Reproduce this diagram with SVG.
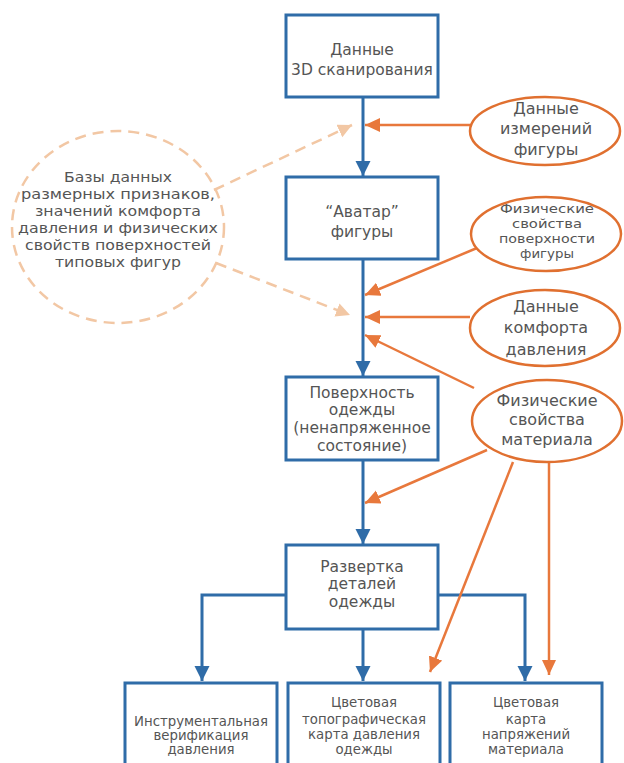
<svg xmlns="http://www.w3.org/2000/svg" width="624" height="763" viewBox="0 0 624 763">
<defs>
<style>
.box{fill:#fff;stroke:#2f6ca8;stroke-width:3}
.ell{fill:#fff;stroke:#e07030;stroke-width:2.5}
.db{fill:none;stroke:#f2c7a4;stroke-width:2.5;stroke-dasharray:11 7}
.t{font-family:"DejaVu Sans",sans-serif;fill:#555;text-anchor:middle}
.b{stroke:#2f6ca8;stroke-width:3;fill:none}
.o{stroke:#e8783c;stroke-width:2.5;fill:none}
</style>
<marker id="ab" markerUnits="userSpaceOnUse" markerWidth="16" markerHeight="16" refX="15" refY="7.5" orient="auto"><path d="M0,0 L15,7.5 L0,15 z" fill="#2f6ca8"/></marker>
<marker id="ao" markerUnits="userSpaceOnUse" markerWidth="16" markerHeight="16" refX="15" refY="7" orient="auto"><path d="M0,0 L15,7 L0,14 z" fill="#e8783c"/></marker>
<marker id="al" markerUnits="userSpaceOnUse" markerWidth="16" markerHeight="16" refX="14" refY="7" orient="auto"><path d="M0,0 L14,7 L0,14 z" fill="#f2c7a4"/></marker>
</defs>
<rect width="624" height="763" fill="#fff"/>
<g id="connectors">
<line class="b" x1="363" y1="97" x2="363" y2="176" marker-end="url(#ab)"/>
<line class="b" x1="363" y1="259" x2="363" y2="376" marker-end="url(#ab)"/>
<line class="b" x1="363" y1="460" x2="363" y2="544" marker-end="url(#ab)"/>
<line class="b" x1="363" y1="629" x2="363" y2="681" marker-end="url(#ab)"/>
<polyline class="b" points="286,595 202,595 202,681" marker-end="url(#ab)"/>
<polyline class="b" points="438,595 525,595 525,681" marker-end="url(#ab)"/>
<line class="o" x1="470" y1="125" x2="365" y2="125" marker-end="url(#ao)"/>
<line class="o" x1="477" y1="248" x2="365" y2="295" marker-end="url(#ao)"/>
<line class="o" x1="470" y1="317" x2="365" y2="317" marker-end="url(#ao)"/>
<line class="o" x1="474" y1="388" x2="365" y2="335" marker-end="url(#ao)"/>
<line class="o" x1="487" y1="450" x2="365" y2="503" marker-end="url(#ao)"/>
<line class="o" x1="513" y1="462" x2="430" y2="672" marker-end="url(#ao)"/>
<line class="o" x1="549" y1="462" x2="549" y2="675" marker-end="url(#ao)"/>
<line class="db" x1="214" y1="190" x2="352" y2="125" marker-end="url(#al)"/>
<line class="db" x1="216" y1="263" x2="350" y2="315" marker-end="url(#al)"/>
</g>
<g id="n1"><rect class="box" x="286" y="15" width="152" height="82"/>
<text class="t" font-size="15.5"><tspan x="362" y="55">Данные</tspan><tspan x="362" y="75">3D сканирования</tspan></text></g>
<g id="n2"><rect class="box" x="286" y="177" width="152" height="82"/>
<text class="t" font-size="15.5"><tspan x="362" y="217">“Аватар”</tspan><tspan x="362" y="237">фигуры</tspan></text></g>
<g id="n3"><rect class="box" x="286" y="377" width="152" height="83"/>
<text class="t" font-size="15.5"><tspan x="362" y="398">Поверхность</tspan><tspan x="362" y="415">одежды</tspan><tspan x="362" y="433">(ненапряженное</tspan><tspan x="362" y="451">состояние)</tspan></text></g>
<g id="n4"><rect class="box" x="286" y="545" width="152" height="84"/>
<text class="t" font-size="15.5"><tspan x="362" y="572">Развертка</tspan><tspan x="362" y="589">деталей</tspan><tspan x="362" y="607">одежды</tspan></text></g>
<g id="n5"><rect class="box" x="125" y="683" width="152" height="82"/>
<text class="t" font-size="13.3"><tspan x="201" y="726">Инструментальная</tspan><tspan x="201" y="740">верификация</tspan><tspan x="201" y="754">давления</tspan></text></g>
<g id="n6"><rect class="box" x="288" y="683" width="152" height="82"/>
<text class="t" font-size="13.3"><tspan x="364" y="707">Цветовая</tspan><tspan x="364" y="724">топографическая</tspan><tspan x="364" y="739">карта давления</tspan><tspan x="364" y="754">одежды</tspan></text></g>
<g id="n7"><rect class="box" x="450" y="683" width="152" height="82"/>
<text class="t" font-size="13.3"><tspan x="526" y="707">Цветовая</tspan><tspan x="526" y="724">карта</tspan><tspan x="526" y="739">напряжений</tspan><tspan x="526" y="754">материала</tspan></text></g>
<g id="e1"><ellipse class="ell" cx="545" cy="131" rx="75" ry="34"/>
<text class="t" font-size="16"><tspan x="546" y="114">Данные</tspan><tspan x="546" y="134">измерений</tspan><tspan x="546" y="155">фигуры</tspan></text></g>
<g id="e2"><ellipse class="ell" cx="546" cy="234" rx="75" ry="37"/>
<text class="t" font-size="12.8"><tspan x="547" y="213" textLength="94" lengthAdjust="spacingAndGlyphs">Физические</tspan><tspan x="547" y="228" textLength="70" lengthAdjust="spacingAndGlyphs">свойства</tspan><tspan x="547" y="243" textLength="96" lengthAdjust="spacingAndGlyphs">поверхности</tspan><tspan x="547" y="258" textLength="54" lengthAdjust="spacingAndGlyphs">фигуры</tspan></text></g>
<g id="e3"><ellipse class="ell" cx="545" cy="328" rx="75" ry="38"/>
<text class="t" font-size="16"><tspan x="546" y="312">Данные</tspan><tspan x="546" y="333">комфорта</tspan><tspan x="546" y="355">давления</tspan></text></g>
<g id="e4"><ellipse class="ell" cx="547" cy="421" rx="75" ry="41"/>
<text class="t" font-size="16"><tspan x="547" y="406">Физические</tspan><tspan x="547" y="425">свойства</tspan><tspan x="547" y="445">материала</tspan></text></g>
<g id="c1"><ellipse cx="118" cy="227" rx="106" ry="96" fill="none" stroke="#f2c7a4" stroke-width="2.5" stroke-dasharray="11 7"/>
<text class="t" font-size="14.4"><tspan x="118" y="182" textLength="108" lengthAdjust="spacingAndGlyphs">Базы данных</tspan><tspan x="118" y="199" textLength="194" lengthAdjust="spacingAndGlyphs">размерных признаков,</tspan><tspan x="118" y="216" textLength="166" lengthAdjust="spacingAndGlyphs">значений комфорта</tspan><tspan x="118" y="233" textLength="200" lengthAdjust="spacingAndGlyphs">давления и физических</tspan><tspan x="118" y="250" textLength="186" lengthAdjust="spacingAndGlyphs">свойств поверхностей</tspan><tspan x="118" y="267" textLength="126" lengthAdjust="spacingAndGlyphs">типовых фигур</tspan></text></g>
</svg>
